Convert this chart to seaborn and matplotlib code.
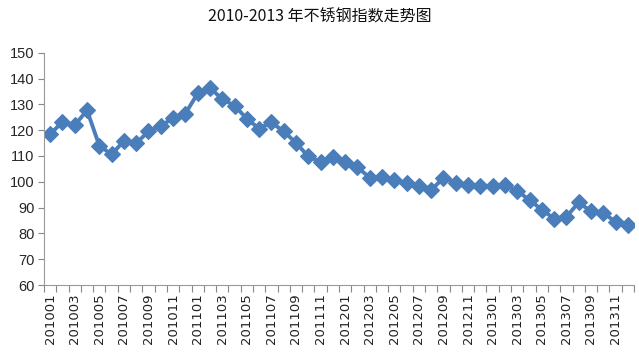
import matplotlib
matplotlib.use("Agg")
import matplotlib.pyplot as plt
import seaborn as sns
import pandas as pd
import numpy as np

months = [f"{y}{m:02d}" for y in range(2010, 2014) for m in range(1, 13)]
values = [118.4, 123.2, 121.9, 127.7, 114.0, 110.6, 115.8, 114.9, 119.5, 121.5, 124.8, 126.4,
          134.2, 136.4, 132.0, 129.5, 124.4, 120.6, 123.0, 119.5, 115.1, 109.8, 107.7, 109.5,
          107.7, 105.6, 101.6, 101.8, 100.7, 99.4, 98.3, 96.8, 101.5, 99.6, 98.9, 98.3,
          98.3, 98.7, 96.5, 92.9, 89.2, 85.7, 86.4, 92.0, 88.5, 88.0, 84.4, 83.3]
yticks = list(range(60, 151, 10))

sns.set_theme(style="white")
plt.rcParams['font.family'] = ['DejaVu Sans', 'Noto Sans CJK SC']

df = pd.DataFrame({"idx": np.arange(len(months)), "month": months, "value": values})

fig = plt.figure(figsize=(6.39, 3.55), dpi=100)
ax = fig.add_axes([44/639, 1-285/355, (634-44)/639, (285-52.7)/355])

sns.lineplot(data=df, x="idx", y="value", ax=ax, color="#4A7EBB", linewidth=2.8,
             marker="D", markersize=8, markeredgecolor="#4A7EBB", markeredgewidth=0.8)

ax.set_xlim(-0.5, len(months) - 0.5)
ax.set_ylim(60, 150)
ax.set_yticks(yticks)
ax.set_yticklabels([str(v) for v in yticks], fontsize=10.5, family="Liberation Sans")
ax.set_xticks(np.arange(0, len(months), 2))
ax.set_xticklabels(months[::2], rotation=90, fontsize=9.5, family="DejaVu Sans", color="#222222")
ax.set_xticks(np.arange(-0.5, len(months), 1), minor=True)
ax.tick_params(axis="x", which="major", length=0, pad=6)
ax.tick_params(axis="x", which="minor", length=5, width=0.8, color="#888888", direction="out", bottom=True)
ax.tick_params(axis="y", length=4, width=0.8, color="#888888", direction="out", left=True, pad=3)
ax.set_xlabel("")
ax.set_ylabel("")
for s in ["top", "right"]:
    ax.spines[s].set_visible(False)
for s in ["left", "bottom"]:
    ax.spines[s].set_color("#999999")
    ax.spines[s].set_linewidth(0.8)

fig.text(0.5, 1 - 17/355, "2010-2013 年不锈钢指数走势图", ha="center", va="center",
         fontsize=11.5, family=["Noto Sans CJK SC", "DejaVu Sans"], color="#111111")

fig.savefig("out.png", dpi=100, facecolor="white")
